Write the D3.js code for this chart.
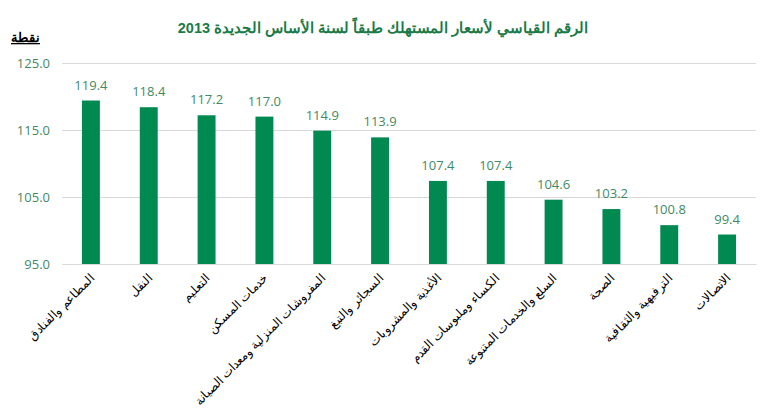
<!DOCTYPE html>
<html>
<head>
<meta charset="utf-8">
<script src="https://cdn.jsdelivr.net/npm/d3@7"></script>
<style>
  body { margin: 0; background: #fff; }
  svg { display: block; font-family: "Liberation Sans", Arial, sans-serif; }
</style>
</head>
<body>
<svg id="chart"></svg>
<script>
(function() {

    const categories = [
        'المطاعم والفنادق', 'النقل', 'التعليم', 'خدمات المسكن',
        'المفروشات المنزلية ومعدات الصيانة', 'السجائر والتبغ', 'الأغذية والمشروبات',
        'الكساء وملبوسات القدم', 'السلع والخدمات المتنوعة', 'الصحة',
        'الترفيهية والثقافية', 'الاتصالات'
    ];
    const values = [119.4, 118.4, 117.2, 117.0, 114.9, 113.9, 107.4, 107.4, 104.6, 103.2, 100.8, 99.4];
    const yTicks = [95, 105, 115, 125];

    const w = 770;
    const h = 408;
    const green = '#008a52';
    const labelGreen = '#3f8a66';

    const svg = d3.select('#chart')
        .attr('width', w)
        .attr('height', h);

    // Scales
    const scaleX = d3.scaleBand()
        .domain(categories)
        .range([62, 756])
        .paddingInner(0.69)
        .paddingOuter(0.345);

    const scaleY = d3.scaleLinear()
        .domain([95, 125])
        .range([264, 63]);

    // Title
    svg.append('text')
        .attr('x', 383)
        .attr('y', 33)
        .attr('text-anchor', 'middle')
        .attr('direction', 'rtl')
        .style('font-size', '14.5px')
        .style('font-weight', 'bold')
        .style('fill', '#1b7a48')
        .text('الرقم القياسي لأسعار المستهلك طبقاً لسنة الأساس الجديدة 2013');

    // Unit label
    svg.append('text')
        .attr('x', 40)
        .attr('y', 42)
        .attr('text-anchor', 'end')
        .style('font-size', '13px')
        .style('font-weight', 'bold')
        .style('fill', '#000')
        .style('text-decoration', 'underline')
        .text('نقطة');

    // Gridlines + Y axis
    const yAxis = d3.axisLeft(scaleY)
        .tickValues(yTicks)
        .tickSize(-(756 - 62))
        .tickPadding(12)
        .tickFormat(d3.format('.1f'));

    const gy = svg.append('g')
        .attr('transform', 'translate(62, 0)')
        .call(yAxis);
    gy.select('.domain').remove();
    gy.selectAll('.tick line').attr('stroke', '#d9d9d9').attr('stroke-width', 1.2);
    gy.selectAll('.tick text')
        .style('font-size', '13px')
        .style('font-family', '"Open Sans", sans-serif')
        .style('fill', labelGreen);

    // Bars
    svg.selectAll('rect.bar')
        .data(values)
        .enter().append('rect')
        .attr('class', 'bar')
        .attr('x', (d, i) => scaleX(categories[i]))
        .attr('y', d => scaleY(d))
        .attr('width', scaleX.bandwidth())
        .attr('height', d => scaleY(95) - scaleY(d))
        .style('fill', green);

    // Value labels
    svg.selectAll('text.value')
        .data(values)
        .enter().append('text')
        .attr('class', 'value')
        .attr('x', (d, i) => scaleX(categories[i]) + scaleX.bandwidth() / 2)
        .attr('y', d => scaleY(d) - 11)
        .attr('text-anchor', 'middle')
        .style('font-size', '13px')
        .style('font-family', '"Open Sans", sans-serif')
        .style('fill', labelGreen)
        .text(d => d.toFixed(1));

    // X axis
    const xAxis = d3.axisBottom(scaleX).tickSize(0).tickPadding(0);
    const gx = svg.append('g')
        .attr('transform', `translate(0, ${scaleY(95)})`)
        .call(xAxis);
    gx.select('.domain').attr('stroke', '#d9d9d9').attr('stroke-width', 1.2);
    gx.selectAll('.tick text')
        .attr('direction', 'rtl')
        .attr('text-anchor', 'start')
        .attr('dy', 0)
        .attr('y', 0)
        .attr('transform', 'translate(4, 15) rotate(-45)')
        .style('font-size', '12px')
        .style('fill', '#000');

})();
</script>
</body>
</html>
